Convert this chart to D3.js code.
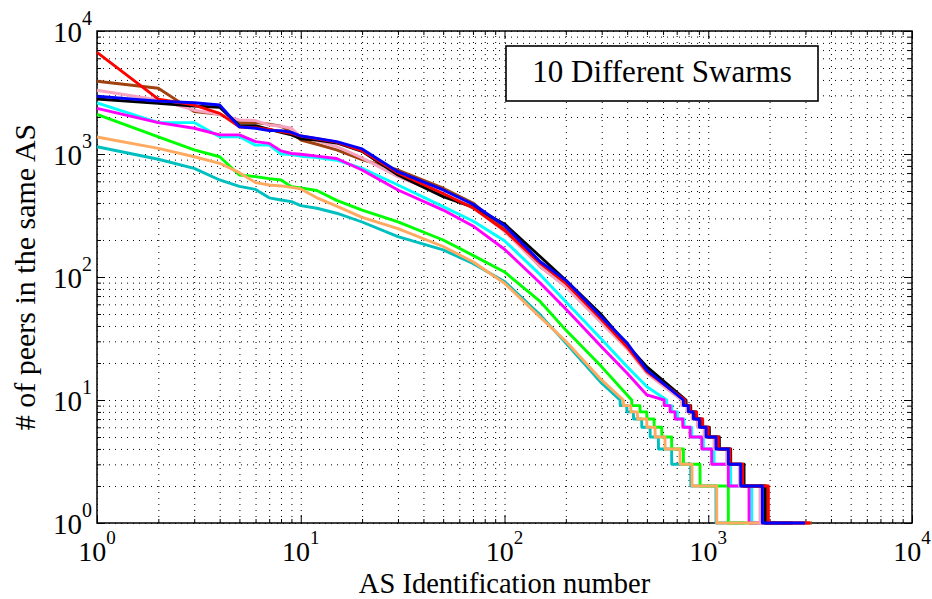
<!DOCTYPE html>
<html>
<head>
<meta charset="utf-8">
<script src="https://cdn.jsdelivr.net/npm/d3@7"></script>
<style>
  body { margin: 0; background: #fff; }
  svg { display: block; }
  text { font-family: "Liberation Serif", "Times New Roman", serif; fill: #000; }
</style>
</head>
<body>
<svg id="chart" width="932" height="599"></svg>
<script>
const headRanks = [1,2,3,4,5,6,7,8,9,10,12,15,20,30,50,70,100,150,200,300,400,500];

// peers per AS at those ranks (null = curve already in its step tail)
const tealHead    = [1146,906,765,615,545,515,440,423,410,380,362,330,280,213,166,129,92,49,29,13.7,null,null];
const greenHead   = [2100,1380,1080,950,675,655,630,615,543,530,505,420,350,281,200,150,110,63,37,18.6,11,null];
const cyanHead    = [2600,1800,1800,1380,1380,1180,1180,1000,990,960,935,890,765,560,373,285,197,104,63,31,18.6,12.8];
const magentaHead = [2350,1800,1620,1430,1430,1260,1220,1060,1010,995,960,920,741,510,350,260,168,89,55,27,16.5,11];
const orangeHead  = [1375,1110,950,840,705,585,560,550,535,520,440,377,305,247,177,133,89,47,30,14.5,null,null];
const brownHead   = [3900,3420,2210,2100,1800,1800,1750,1680,1500,1300,1200,1080,900,741,527,400,245,121,85,44,27,17];
const pinkHead    = [3300,2750,2270,2100,1890,1870,1720,1680,1620,1380,1280,1150,930,655,464,370,235,121,83,42,26,16.5];
const blackHead   = [2800,2580,2450,2400,1700,1700,1585,1500,1430,1330,1300,1230,1050,675,450,370,270,146,94,49,28,18.6];
const redHead     = [6700,2790,2500,2140,1660,1640,1585,1520,1470,1400,1330,1250,1060,700,477,365,240,129,89,45,27,17];
const blueHead    = [2950,2690,2610,2500,1660,1618,1550,1550,1500,1400,1340,1260,1100,718,510,390,262,133,94,47,29,17.5];

// last rank holding each count level in the tail
const tailLevels = [10,9,8,7,6,5,4,3,2];
const tealDrops    = [369,398,429,471,518,569,661,820,1091];
const greenDrops   = [421,462,499,542,591,661,755,911,1254];
const cyanDrops    = [625,661,705,760,829,946,1067,1288,1634];
const magentaDrops = [607,649,687,749,814,929,1039,1254,1585];
const orangeDrops  = [383,416,449,499,548,613,727,832,1100];
const brownDrops   = [760,807,858,911,990,1108,1269,1459,1935];
const pinkDrops    = [740,784,832,884,953,1067,1231,1421,1795];
const blackDrops   = [778,820,871,929,1012,1133,1288,1498,1899];
const redDrops     = [769,814,877,939,1001,1121,1279,1476,1972];
const blueDrops    = [755,798,845,904,975,1091,1254,1443,1843];

// total number of ASes per swarm (end of the count=1 level)
const lastRanks = [1500,1700,2200,2100,1900,3230,2700,2600,3157,2985];

const swarmColors = ["#00bfbf","#00ff00","#00ffff","#ff00ff","#ffaa60","#a0420f","#f6a2c0","#000000","#ff0000","#0000ff"];
const heads = [tealHead,greenHead,cyanHead,magentaHead,orangeHead,brownHead,pinkHead,blackHead,redHead,blueHead];
const drops = [tealDrops,greenDrops,cyanDrops,magentaDrops,orangeDrops,brownDrops,pinkDrops,blackDrops,redDrops,blueDrops];

const majorTicks = [1,10,100,1000,10000];

const margin = {left: 97, top: 31, right: 20, bottom: 76};
const W = 932 - margin.left - margin.right;
const H = 599 - margin.top - margin.bottom;

const svg = d3.select("#chart");
const g = svg.append("g").attr("transform", `translate(${margin.left},${margin.top})`);

const x = d3.scaleLog().domain([1, 1e4]).range([0, W]);
const y = d3.scaleLog().domain([1, 1e4]).range([H, 0]);

const allTicks = x.ticks();
const minorTicks = allTicks.filter(t => majorTicks.indexOf(t) < 0);

// dotted grid at every major and minor position
g.append("g").attr("class", "grid")
  .attr("transform", `translate(0,${H})`)
  .call(d3.axisBottom(x).tickValues(allTicks).tickSize(-H).tickFormat(""));
g.append("g").attr("class", "grid")
  .call(d3.axisLeft(y).tickValues(allTicks).tickSize(-W).tickFormat(""));
g.selectAll(".grid .domain").remove();
g.selectAll(".grid line")
  .attr("stroke", "#222")
  .attr("stroke-width", 1)
  .attr("stroke-dasharray", "1,5");

// inward ticks on all four sides
function ticks(axisFn, scale, tr) {
  const a = g.append("g").attr("transform", tr);
  a.call(axisFn(scale).tickValues(majorTicks).tickSize(-8).tickFormat(""));
  a.call(s => s.select(".domain").remove());
  const b = g.append("g").attr("transform", tr);
  b.call(axisFn(scale).tickValues(minorTicks).tickSize(-4).tickFormat(""));
  b.call(s => s.select(".domain").remove());
}
ticks(d3.axisBottom, x, `translate(0,${H})`);
ticks(d3.axisTop, x, "translate(0,0)");
ticks(d3.axisLeft, y, "translate(0,0)");
ticks(d3.axisRight, y, `translate(${W},0)`);
g.selectAll(".tick line").attr("stroke", "#000").attr("stroke-width", 1);

g.append("rect")
  .attr("width", W).attr("height", H)
  .attr("fill", "none").attr("stroke", "#000").attr("stroke-width", 1.5);

// tick labels 10^n
const expo = d => Math.round(Math.log10(d));
g.selectAll(".xlab").data(majorTicks).enter().append("text")
  .attr("class", "xlab")
  .attr("x", d => x(d))
  .attr("y", H + 38)
  .attr("text-anchor", "middle")
  .style("font-size", "28px")
  .each(function (d) {
    const t = d3.select(this);
    t.append("tspan").text("10");
    t.append("tspan").attr("dy", -17).style("font-size", "19px").text(expo(d));
  });
g.selectAll(".ylab").data(majorTicks).enter().append("text")
  .attr("class", "ylab")
  .attr("x", -5)
  .attr("y", d => y(d) + 11)
  .attr("text-anchor", "end")
  .style("font-size", "29px")
  .each(function (d) {
    const t = d3.select(this);
    t.append("tspan").text("10");
    t.append("tspan").attr("dy", -17).style("font-size", "20px").text(expo(d));
  });

// axis titles
svg.append("text")
  .attr("x", margin.left + W / 2)
  .attr("y", 592.5)
  .attr("text-anchor", "middle")
  .style("font-size", "28.5px")
  .text("AS Identification number");
svg.append("text")
  .attr("transform", `translate(35,${margin.top + H / 2}) rotate(-90)`)
  .attr("text-anchor", "middle")
  .style("font-size", "30px")
  .text("# of peers in the same AS");

// curves
const line = d3.line()
  .x(d => x(d[0]))
  .y(d => y(d[1]));

heads.forEach((head, i) => {
  const pts = [];
  head.forEach((v, j) => { if (v !== null) pts.push([headRanks[j], v]); });
  drops[i].forEach((r, k) => {
    pts.push([r, tailLevels[k]]);
    pts.push([r + 1, tailLevels[k] - 1]);
  });
  pts.push([lastRanks[i], 1]);
  g.append("path")
    .datum(pts)
    .attr("fill", "none")
    .attr("stroke", swarmColors[i])
    .attr("stroke-width", 2.9)
    .attr("stroke-linejoin", "round")
    .attr("d", line);
});

// annotation box
const box = g.append("g").attr("transform", `translate(${506 - margin.left},${46 - margin.top})`);
box.append("rect")
  .attr("width", 312).attr("height", 55)
  .attr("fill", "#fff").attr("stroke", "#000").attr("stroke-width", 1.6);
box.append("text")
  .attr("x", 156).attr("y", 36)
  .attr("text-anchor", "middle")
  .style("font-size", "31px")
  .text("10 Different Swarms");
</script>
</body>
</html>
